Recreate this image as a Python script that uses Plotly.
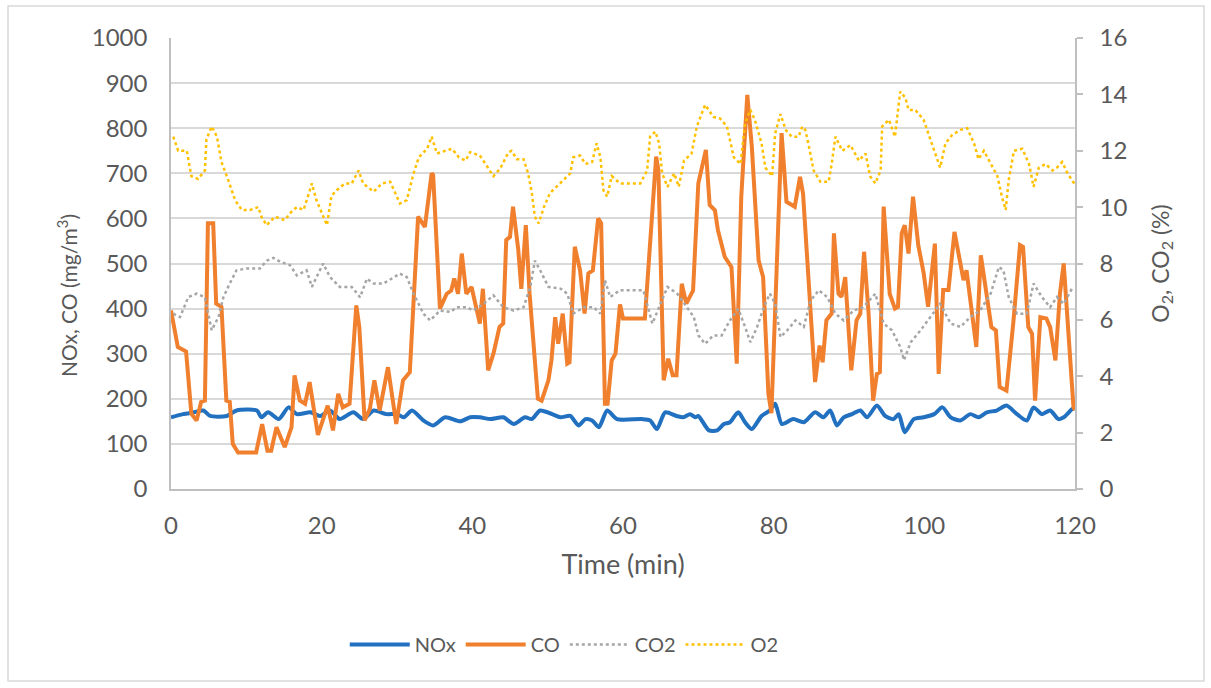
import plotly.graph_objects as go

# ---- data ----
nox_t = [0, 1.6, 3.0, 4.3, 5.2, 7.4, 8.7, 11.4, 12.0, 12.9, 14.3, 15.6, 16.7, 18.5, 19.8, 21.1, 22.4, 24.2, 25.5,
         26.9, 28.6, 30.0, 30.9, 32.0, 33.5, 34.8, 36.4, 38.4, 39.7, 41.0, 42.4, 44.1, 45.5, 47.0, 47.9, 49.0, 50.6,
         51.7, 53.0, 54.1, 55.0, 55.9, 56.8, 57.9, 59.2, 62.5, 63.6, 64.5, 65.6, 67.1, 68.0, 68.9, 69.6, 70.0, 71.4,
         72.5, 73.4, 74.2, 75.3, 76.2, 77.1, 78.4, 79.5, 80.2, 81.1, 82.6, 84.0, 85.5, 86.6, 87.5, 88.4, 89.3, 90.4,
         91.5, 92.4, 93.7, 94.8, 95.9, 96.6, 97.4, 98.6, 99.9, 101.3, 102.4, 103.5, 104.8, 106.1, 107.2, 108.3,
         109.6, 110.9, 112.3, 113.6, 114.5, 115.6, 116.7, 117.8, 118.5, 119.6, 120]
nox = [159, 166, 170, 174, 162, 162, 174, 174, 159, 170, 155, 181, 166, 170, 162, 174, 155, 170, 155,
       174, 166, 166, 159, 174, 152, 141, 159, 150, 159, 159, 155, 159, 144, 159, 155, 174, 166,
       159, 162, 141, 155, 152, 137, 174, 155, 155, 152, 133, 170, 162, 159, 166, 159, 162, 130,
       130, 144, 148, 170, 148, 133, 162, 174, 189, 144, 155, 148, 170, 159, 174, 141, 159, 166,
       174, 159, 185, 162, 155, 166, 126, 155, 159, 166, 181, 159, 152, 166, 159, 170,
       174, 185, 166, 152, 181, 166, 174, 155, 159, 177, 180]

co_t = [0, 0.9, 2.0, 2.7, 3.4, 4.0, 4.5, 4.9, 5.6, 6.0, 6.7, 7.35, 7.8, 8.2, 8.9, 11.3, 12.1, 12.8, 13.3, 14.0,
        15.1, 16.0, 16.4, 17.1, 17.8, 18.4, 19.5, 20.8, 21.5, 22.2, 22.8, 23.7, 24.6, 25.0, 25.7, 26.4, 27.0,
        27.7, 28.8, 29.9, 30.8, 31.7, 32.8, 33.7, 34.6, 34.8, 35.7, 36.6, 37.2, 37.6, 38.1, 38.6, 39.2, 39.9,
        40.3, 41.0, 41.4, 42.1, 42.8, 43.6, 44.1, 44.5, 45.0, 45.4, 46.1, 46.5, 47.1, 47.6, 48.7, 49.2, 50.1,
        50.5, 51.0, 51.4, 52.0, 52.6, 52.9, 53.6, 54.3, 54.9, 55.4, 56.0, 56.7, 57.1, 57.6, 57.95, 58.5, 59.0,
        59.6, 60.0, 62.9, 63.6, 64.4, 64.7, 65.4, 66.0, 66.6, 67.1, 67.8, 68.4, 69.3, 70.0, 71.0, 71.5, 72.2,
        72.6, 73.5, 74.4, 75.1, 75.7, 76.5, 77.1, 78.0, 78.6, 79.3, 79.7, 81.05, 81.7, 82.8, 83.5, 83.9, 85.5,
        86.1, 86.5, 87.0, 87.7, 88.0, 88.6, 89.0, 89.5, 90.3, 91.0, 91.5, 92.0, 92.6, 93.2, 93.7, 94.1, 94.6,
        95.4, 96.1, 96.5, 97.0, 97.4, 97.9, 98.5, 99.2, 99.9, 100.5, 101.4, 101.9, 102.5, 103.2, 104.0, 104.7,
        105.2, 105.6, 106.9, 107.5, 108.1, 108.9, 109.5, 110.0, 110.9, 111.8, 112.7, 113.1, 113.8, 114.3,
        114.7, 115.4, 116.2, 116.7, 117.4, 118.0, 118.5, 118.9, 119.8, 120]
co = [396, 315, 305, 167, 152, 193, 196, 589, 589, 411, 404, 196, 193, 100, 81, 81, 144, 85, 85, 137,
      93, 137, 252, 196, 189, 237, 120, 185, 130, 211, 181, 189, 407, 359, 152, 178, 241,
      174, 270, 144, 241, 259, 604, 581, 700, 696, 400, 433, 440, 467, 433, 522, 433, 448,
      418, 367, 444, 263, 300, 359, 367, 552, 559, 626, 530, 444, 585, 433, 200, 196, 241,
      285, 381, 322, 389, 278, 281, 537, 485, 389, 478, 485, 600, 589, 189, 189, 285, 300,
      409, 378, 378, 537, 737, 707, 241, 289, 252, 252, 455, 411, 440, 678, 752, 630, 618,
      574, 515, 492, 278, 648, 874, 759, 507, 470, 211, 168, 789, 637, 626, 692, 655, 237,
      318, 281, 374, 389, 567, 433, 426, 470, 263, 374, 389, 526, 389, 196, 255, 259, 626,
      433, 400, 404, 567, 585, 522, 648, 540, 480, 404, 544, 255, 441, 441, 570, 507,
      463, 485, 315, 518, 444, 359, 352, 226, 218, 367, 541, 537, 359, 344,
      196, 381, 378, 359, 285, 433, 500, 396, 181, 175]

co2_t = [0.3, 1.2, 2.3, 3.4, 4.5, 5.4, 6.3, 6.95, 7.8, 8.7, 10.0, 11.8, 12.7, 13.6, 14.5, 15.8, 16.7, 18.0,
         18.7, 19.3, 20.2, 21.1, 22.4, 24.0, 25.1, 26.0, 26.9, 28.2, 29.3, 30.4, 31.3, 32.2, 33.5, 34.4, 35.7,
         37.1, 37.9, 39.3, 40.1, 41.5, 42.8, 44.1, 45.5, 46.8, 47.7, 48.3, 49.0, 50.1, 51.7, 52.6, 53.4, 54.8,
         56.1, 57.0, 57.6, 58.3, 59.6, 61.4, 62.7, 63.9, 65.0, 65.9, 67.2, 68.5, 69.4, 70.0, 70.9, 72.0, 73.1,
         74.2, 75.3, 76.2, 76.9, 77.8, 78.7, 79.5, 80.2, 80.9, 81.8, 82.9, 84.0, 84.9, 86.0, 87.1, 88.2, 89.3,
         90.6, 91.9, 93.5, 94.6, 95.7, 96.8, 97.3, 98.2, 99.5, 100.8, 102.1, 103.5, 104.8, 106.1, 107.4,
         108.8, 109.9, 110.5, 111.2, 112.3, 113.6, 114.5, 115.6, 116.7, 117.6, 118.5, 119.6]
co2 = [6.22, 6.1, 6.81, 6.93, 6.8, 5.63, 6.1, 6.8, 7.29, 7.76, 7.82, 7.82, 8.1, 8.2, 8.06, 7.94, 7.58, 7.76,
       7.17, 7.52, 8.0, 7.52, 7.17, 7.17, 6.8, 7.46, 7.29, 7.29, 7.46, 7.64, 7.52, 6.93, 6.22, 5.98, 6.33,
       6.28, 6.45, 6.45, 6.33, 6.57, 6.87, 6.45, 6.33, 6.45, 7.17, 8.1, 7.76, 7.17, 7.11, 6.93, 6.22, 6.45,
       6.45, 6.22, 7.41, 6.81, 7.05, 7.05, 7.05, 5.87, 6.57, 7.17, 6.93, 6.45, 6.1, 5.45, 5.15, 5.45, 5.45,
       5.98, 6.39, 5.75, 5.21, 5.75, 6.45, 6.93, 6.57, 5.39, 5.63, 5.98, 5.75, 6.69, 7.05, 6.81, 6.22, 5.98,
       6.33, 6.45, 6.93, 5.87, 5.63, 5.04, 4.57, 5.21, 5.63, 6.1, 6.57, 5.87, 5.75, 6.1, 6.33,
       6.93, 7.88, 7.76, 6.81, 6.22, 6.22, 7.29, 6.81, 6.45, 6.81, 6.57, 7.11]

o2_t = [0.3, 0.95, 2.1, 2.7, 3.6, 4.5, 4.7, 5.4, 6.1, 6.7, 7.6, 8.5, 9.4, 10.5, 11.6, 12.0, 12.7, 13.8, 15.1,
        16.0, 16.7, 17.6, 18.2, 18.7, 19.3, 20.2, 20.7, 21.3, 22.0, 23.1, 24.0, 24.9, 25.5, 26.9, 28.0, 29.1,
        30.4, 31.3, 32.2, 32.9, 34.0, 34.6, 35.3, 36.4, 37.3, 38.2, 39.1, 39.7, 41.0, 41.9, 42.8, 43.7, 44.8,
        45.2, 45.9, 46.8, 47.4, 47.9, 48.3, 48.8, 49.5, 50.3, 51.2, 52.1, 53.0, 53.4, 54.3, 55.0, 55.9, 56.5,
        57.0, 57.4, 57.9, 58.5, 59.6, 61.0, 62.3, 63.2, 63.6, 64.3, 64.8, 65.2, 65.9, 66.8, 67.4, 68.1, 69.1,
        69.8, 70.9, 72.0, 72.9, 73.8, 74.7, 75.6, 76.2, 76.9, 77.5, 78.4, 78.9, 79.8, 80.2, 80.9, 81.6, 82.4,
        83.3, 83.8, 84.2, 84.6, 85.3, 86.2, 87.3, 87.7, 88.2, 89.1, 90.2, 91.3, 92.2, 92.8, 93.5, 94.2, 94.4,
        95.3, 96.1, 96.8, 97.5, 97.9, 98.8, 99.9, 100.8, 101.7, 102.1, 102.8, 103.7, 104.8, 105.7, 106.6,
        107.2, 107.9, 108.8, 109.7, 110.3, 110.8, 111.2, 111.9, 113.0, 113.9, 114.5, 115.2, 116.1, 117.0,
        117.6, 118.3, 119.0, 119.9]
o2 = [12.5, 12.0, 12.0, 11.1, 11.0, 11.3, 12.4, 12.86, 12.5, 11.6, 10.96, 10.25, 9.9, 9.9, 10.0, 9.66, 9.36, 9.66, 9.54,
      9.84, 10.0, 9.9, 10.4, 10.84, 10.25, 9.66, 9.36, 10.4, 10.6, 10.84, 10.84, 11.3, 10.84, 10.55, 10.84, 10.9,
      10.13, 10.25, 11.2, 11.77, 12.07, 12.5, 11.9, 12.0, 12.07, 11.77, 11.65, 11.95, 11.83, 11.47, 11.1, 11.37, 11.95,
      12.0, 11.7, 11.7, 11.2, 10.5, 9.66, 9.42, 10.0, 10.5, 10.72, 10.96, 11.2, 11.77, 11.83, 11.53, 11.6, 12.26,
      11.77, 10.6, 10.37, 11.1, 10.84, 10.84, 10.84, 11.3, 12.5, 12.68, 12.26, 11.2, 10.72, 11.2, 10.72, 11.65, 11.9,
      12.86, 13.63, 13.2, 13.14, 12.86, 11.77, 11.53, 12.96, 13.45, 13.1, 12.26, 11.4, 11.1, 12.62, 13.3, 12.74, 12.5,
      12.5, 12.86, 12.74, 12.26, 11.3, 10.9, 10.9, 11.53, 12.5, 12.0, 12.2, 11.65, 11.9, 11.1, 10.84, 11.3, 12.86,
      13.1, 12.5, 14.1, 13.87, 13.45, 13.45, 13.1, 12.38, 11.7, 11.4, 12.26, 12.56, 12.74, 12.8, 12.26,
      11.7, 12.0, 11.53, 11.1, 10.37, 9.9, 10.96, 12.0, 12.07, 11.53, 10.72, 11.4, 11.53, 11.3,
      11.4, 11.6, 11.2, 10.84]

series_names = ["NOx", "CO", "CO2", "O2"]
x_ticks = [0, 20, 40, 60, 80, 100, 120]

# ---- styling ----
GRAY = "#595959"
FONT = "Lato"

fig = go.Figure()
fig.add_trace(go.Scatter(x=nox_t, y=nox, name=series_names[0], mode="lines",
                         line=dict(color="#2270C0", width=4, shape="spline", smoothing=0.7)))
fig.add_trace(go.Scatter(x=co_t, y=co, name=series_names[1], mode="lines",
                         line=dict(color="#F07F2E", width=4)))
fig.add_trace(go.Scatter(x=co2_t, y=co2, name=series_names[2], mode="lines", yaxis="y2",
                         line=dict(color="#A6A6A6", width=2.5, dash="dot")))
fig.add_trace(go.Scatter(x=o2_t, y=o2, name=series_names[3], mode="lines", yaxis="y2",
                         line=dict(color="#FFC000", width=2.5, dash="dot")))

fig.update_layout(
    width=1211, height=688,
    margin=dict(l=171, r=136, t=38, b=199),
    paper_bgcolor="white", plot_bgcolor="white",
    font=dict(family=FONT, color=GRAY, size=23),
    xaxis=dict(range=[0, 120], tickvals=x_ticks, showgrid=False, zeroline=False,
               showline=True, linecolor="#BFBFBF", linewidth=1.5, ticks="",
               ticklabelstandoff=14, tickfont=dict(size=24, color=GRAY),
               title=dict(text="Time (min)", font=dict(size=27, color=GRAY), standoff=18)),
    yaxis=dict(range=[0, 1000], dtick=100, showgrid=True, gridcolor="#D9D9D9", gridwidth=1.5,
               zeroline=False, showline=True, linecolor="#BFBFBF", linewidth=1.5, ticks="",
               ticklabelstandoff=17, tickfont=dict(size=24, color=GRAY)),
    yaxis2=dict(range=[0, 16], dtick=2, overlaying="y", side="right", showgrid=False, zeroline=False,
                showline=True, linecolor="#BFBFBF", linewidth=1.5, ticks="outside", ticklen=6,
                tickcolor="#BFBFBF", tickwidth=1.5, ticklabelstandoff=12, tickfont=dict(size=24, color=GRAY),
                title=dict(text="O<sub>2</sub>, CO<sub>2</sub> (%)", font=dict(size=23, color=GRAY), standoff=26)),
    legend=dict(orientation="h", x=0.435, xanchor="center", y=-0.345, yanchor="middle",
                font=dict(size=20, color=GRAY), itemwidth=60, traceorder="normal"),
    annotations=[dict(text="NOx, CO (mg/m<sup>3</sup>)", textangle=-90, xref="paper", yref="paper",
                      x=-0.115, y=0.428, xanchor="center", yanchor="middle", showarrow=False,
                      font=dict(size=21, color=GRAY))],
    shapes=[dict(type="rect", xref="paper", yref="paper", x0=-0.1803, x1=1.1427, y0=-0.4257, y1=1.071,
                 line=dict(color="#D9D9D9", width=1.5), fillcolor="rgba(0,0,0,0)", layer="below")],
)

fig.write_html("out.html", config={"displayModeBar": False},
               post_script="document.body.style.margin='0px';document.body.style.padding='0px';")
